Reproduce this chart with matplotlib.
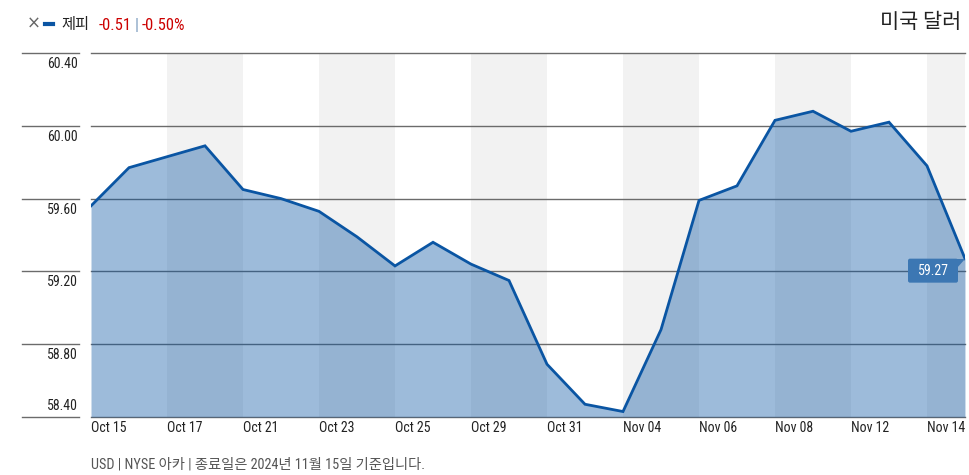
import matplotlib
matplotlib.use("Agg")
import matplotlib.pyplot as plt
import matplotlib.transforms as mtransforms
from matplotlib.patches import FancyBboxPatch, Polygon
from matplotlib import font_manager

# 데이터
dates = ["Oct 15", "Oct 16", "Oct 17", "Oct 18", "Oct 21", "Oct 22", "Oct 23", "Oct 24",
         "Oct 25", "Oct 28", "Oct 29", "Oct 30", "Oct 31", "Nov 01", "Nov 04", "Nov 05",
         "Nov 06", "Nov 07", "Nov 08", "Nov 11", "Nov 12", "Nov 13", "Nov 14", "Nov 15"]
prices = [59.56, 59.77, 59.83, 59.89, 59.65, 59.60, 59.53, 59.39,
          59.23, 59.36, 59.24, 59.15, 58.69, 58.47, 58.43, 58.88,
          59.59, 59.67, 60.03, 60.08, 59.97, 60.02, 59.78, 59.27]
y_ticks = [58.40, 58.80, 59.20, 59.60, 60.00, 60.40]
tick_idx = list(range(0, len(dates) - 1, 2))
tick_labels = [dates[i] for i in tick_idx]

# 좁은 글꼴이 있으면 사용
fonts = font_manager.fontManager.ttflist
names = {f.name for f in fonts}
stretch = "normal"
if "Liberation Sans Narrow" in names:
    latin = "Liberation Sans Narrow"
elif "Roboto Condensed" in names:
    latin = "Roboto Condensed"
elif any(f.name == "DejaVu Sans" and "ondensed" in str(f.stretch) for f in fonts):
    latin, stretch = "DejaVu Sans", "condensed"
else:
    latin = "Liberation Sans"
narrow_ok = latin != "Liberation Sans"
plt.rcParams['font.family'] = [latin, "Noto Sans CJK KR", "DejaVu Sans"]
plt.rcParams['font.stretch'] = stretch
fs = 10 if narrow_ok else 9

LINE = "#0a55a3"
GRID = "#6b6b6b"
W, H = 970, 475

fig = plt.figure(figsize=(W / 100, H / 100), dpi=100)
ax = fig.add_axes([91 / W, 1 - 417 / H, (965 - 91) / W, (417 - 53) / H])

x = list(range(len(prices)))
ax.set_xlim(0, len(prices) - 1)
ax.set_ylim(y_ticks[0], y_ticks[-1])

# 교대 배경 띠
for i in tick_idx[1::2]:
    ax.axvspan(i, min(i + 2, len(prices) - 1), color="#f2f2f2", lw=0, zorder=0)

# 격자선
for v in y_ticks:
    ax.axhline(v, color=GRID, lw=1, zorder=1, clip_on=False)

ax.fill_between(x, prices, y_ticks[0], color=LINE, alpha=0.4, lw=0, zorder=2)
ax.plot(x, prices, color=LINE, lw=2, zorder=3, solid_joinstyle="miter")

for s in ax.spines.values():
    s.set_visible(False)
ax.set_yticks([])
ax.set_xticks(tick_idx)
ax.set_xticklabels(tick_labels, ha="left", fontsize=fs, color="#222222")
ax.tick_params(axis="x", length=0, pad=3)

# 왼쪽 y축 라벨
blend = mtransforms.blended_transform_factory(fig.transFigure, ax.transData)
for v in y_ticks:
    ax.plot([22 / W, 79 / W], [v, v], color=GRID, lw=1, transform=blend, clip_on=False)
    off = 11 if v == y_ticks[0] else -11
    ax.annotate(f"{v:.2f}", xy=(78, v), xycoords=("figure pixels", "data"),
                xytext=(0, off), textcoords="offset pixels", ha="right", va="center",
                fontsize=fs, color="#222222")

# 마지막 값 라벨
last_x, last_y = x[-1], prices[-1]
tr = mtransforms.Affine2D() + mtransforms.ScaledTranslation(last_x, last_y, ax.transData)
box = FancyBboxPatch((-57, -24), 50, 24, boxstyle="round,pad=0,rounding_size=2",
                     fc="#3c77b3", ec="none", transform=tr, clip_on=False, zorder=5)
ax.add_patch(box)
ax.add_patch(Polygon([(0, 0), (-8, 0), (-8, -9)], closed=True, fc="#3c77b3", ec="none",
                     transform=tr, clip_on=False, zorder=5))
ax.text(-32, -12.5, f"{last_y:.2f}", transform=tr, ha="center", va="center",
        color="white", fontsize=fs, zorder=6)


def px(xp, yp):
    return xp / W, 1 - yp / H


# 범례
fig.text(*px(27, 24), "×", fontsize=12, color="#666666", va="center", family="DejaVu Sans")
fig.lines.append(plt.Line2D([45 / W, 53 / W], [1 - 24 / H] * 2, color=LINE, lw=3,
                            transform=fig.transFigure))
renderer = fig.canvas.get_renderer()
pieces = [("제피", "#222222", 11, 10), ("-0.51", "#cc0000", fs + 2, 3),
          ("|", "#7f9fc0", fs + 2, 3), ("-0.50%", "#cc0000", fs + 2, 0)]
xp = 61
for txt, col, size, gap in pieces:
    t = fig.text(*px(xp, 25), txt, fontsize=size, color=col, va="center")
    xp += t.get_window_extent(renderer).width + gap

fig.text(*px(961, 22), "미국 달러", fontsize=15, color="#222222", ha="right", va="center")

fig.text(*px(91, 465), "USD | NYSE 아카 | 종료일은 2024년 11월 15일 기준입니다.",
         fontsize=fs + 0.3, color="#555555", va="center")

fig.savefig("out.png", dpi=100)
